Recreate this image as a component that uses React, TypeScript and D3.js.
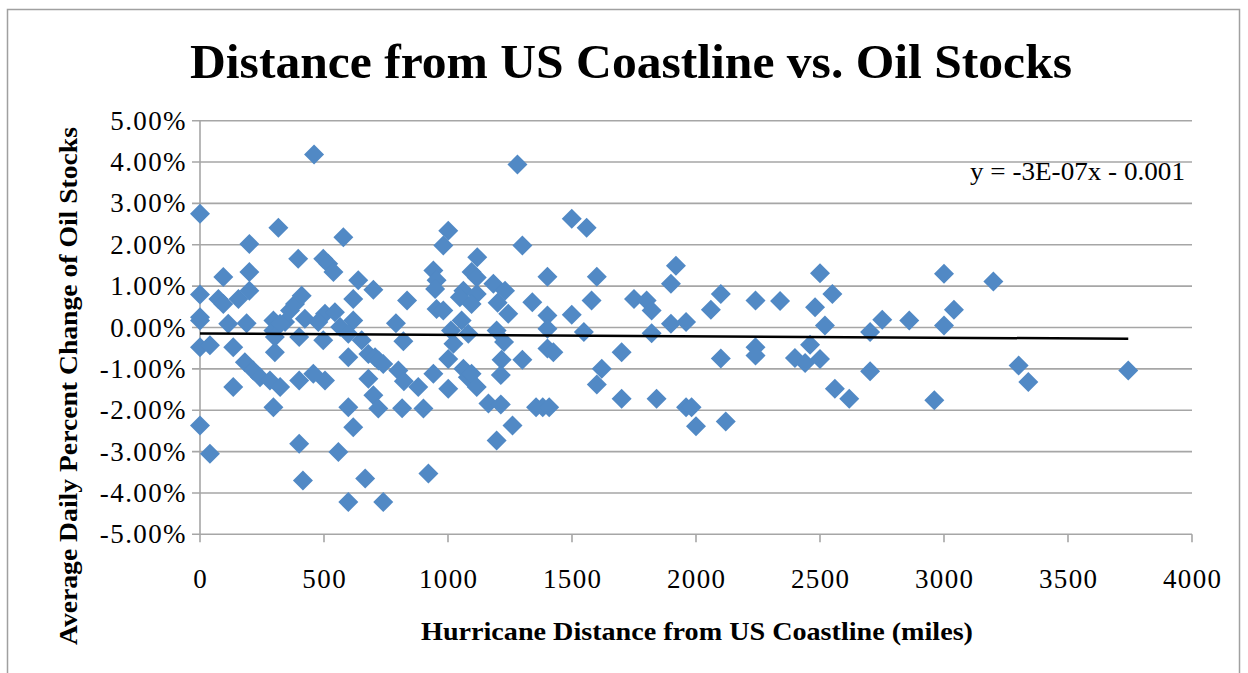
import React from 'react';
import * as d3 from 'd3';

// Hurricane distance from US coastline (miles)
const distances: number[] = [
  0, 316, 199, 396, 94, 199, 0, 74, 94, 155, 199, 0, 0, 114, 188, 296, 343, 363, 383, 410,
  0, 40, 134, 302, 296, 323, 302, 181, 215, 242, 282, 323, 134, 296, 400, 0, 40, 400, 415,
  460, 578, 497, 517, 538, 638, 699, 618, 504, 544, 423, 477, 618, 565, 598, 790, 835,
  400, 497, 598, 652, 679, 706, 720, 739, 800, 820, 457, 504, 679, 699, 719, 598, 618,
  822, 815, 558, 666, 598, 739,
  1001, 981, 1118, 941, 954, 948, 1095, 1116, 1183, 1062, 1048, 1116, 1095, 1230, 1200,
  1243, 954, 981, 1055, 1012, 1082, 1196, 1022, 1001, 1226, 1216, 1213, 941, 1062, 1080,
  1095, 880, 1001, 1116, 1163, 1213, 901, 1260, 1196, 921,
  1280, 1499, 1559, 1300, 1401, 1600, 1340, 1579, 1401, 1499, 1401, 1548, 1401, 1425,
  1300, 1620, 1600, 1355, 1382, 1408,
  1919, 1899, 1750, 1801, 1821, 2060, 2100, 1899, 1960, 1821, 1700, 2100, 1700, 1841,
  1960, 1982, 2000, 2120,
  2240, 2339, 2500, 2480, 2520, 2240, 2240, 2399, 2440, 2460, 2500, 2550, 2560, 2618,
  2702, 2751, 2860, 2702, 2961, 3000, 3040, 3000, 3199, 3301, 3340, 3743,
];

// Average daily percent change of oil stocks (%)
const pctChanges: number[] = [
  2.75, 2.41, 2.02, 1.66, 1.22, 1.34, 0.8, 0.69, 0.57, 0.69, 0.89, 0.17, 0.25, 0.09, 0.1, 0.17, 0.13, 0.41, 0.57, 0.77,
  -0.48, -0.43, -0.48, -0.6, -0.07, 0.09, -0.23, -0.84, -1.04, -1.2, -1.28, -1.44, -1.44, -1.93, -1.28, -2.37, -3.05, -2.81, -3.7,
  4.18, 2.18, 1.66, 1.54, 1.34, 1.14, 0.91, 0.69, 0.33, 0.37, 0.21, 0.13, 0.17, 0.01, -0.15, 0.1, 0.65,
  -0.23, -0.31, -0.72, -0.31, -0.64, -0.72, -0.8, -0.88, -1.04, -0.33, -1.12, -1.28, -1.24, -1.64, -1.96, -1.93, -2.41,
  -1.3, -1.95, -3.01, -3.65, -4.22, -4.22,
  2.34, 1.98, 1.7, 1.38, 1.14, 0.93, 1.34, 1.21, 1.06, 0.89, 0.73, 0.81, 0.57, 0.89, 0.6,
  0.33, 0.45, 0.41, 0.17, -0.07, -0.15, -0.07, -0.39, -0.76, -0.35, -0.78, -1.15, -1.12, -1.0, -1.2,
  -1.12, -1.44, -1.48, -1.44, -1.84, -1.86, -1.96, -2.37, -2.73, -3.53,
  3.94, 2.63, 2.41, 1.98, 1.23, 1.23, 0.61, 0.65, 0.29, 0.31, -0.03, -0.11, -0.51, -0.6,
  -0.78, -1.0, -1.38, -1.93, -1.93, -1.93,
  1.49, 1.06, 0.69, 0.65, 0.41, 0.43, 0.81, 0.09, 0.13, -0.14, -0.6, -0.75, -1.72, -1.72,
  -1.93, -1.93, -2.39, -2.27,
  0.65, 0.64, 1.31, 0.49, 0.05, -0.48, -0.68, -0.74, -0.86, -0.42, -0.76, 0.81, -1.48, -1.72,
  -0.11, 0.19, 0.17, -1.06, -1.76, 1.3, 0.43, 0.05, 1.11, -0.92, -1.32, -1.04,
];

const yTicks: number[] = [5, 4, 3, 2, 1, 0, -1, -2, -3, -4, -5];
const xTicks: number[] = [0, 500, 1000, 1500, 2000, 2500, 3000, 3500, 4000];

// Linear trendline (percent units): y = slope * x + intercept
const trendSlope = -0.000034;
const trendIntercept = -0.145;
const trendLabel = 'y = -3E-07x - 0.001';

const chartTitle = 'Distance from US Coastline vs. Oil Stocks';
const xTitle = 'Hurricane Distance from US Coastline (miles)';
const yTitle = 'Average Daily Percent Change of Oil Stocks';

const W = 1248;
const H = 673;
const FONT = '"Liberation Serif", "Times New Roman", serif';
const GRID = '#a6a6a6';
const MARKER = '#5189c5';

export default function App() {
  const x = d3.scaleLinear().domain([0, 4000]).range([200, 1192]);
  const y = d3.scaleLinear().domain([-5, 5]).range([534.3, 120.7]);
  const diamond = d3.symbol().type(d3.symbolSquare).size(200)() as string;
  const xMaxData = d3.max(distances) as number;
  const trendPath = d3.line<number>()
    .x((d) => x(d))
    .y((d) => y(trendSlope * d + trendIntercept))([0, xMaxData]) as string;
  const fmt = (v: number) => v.toFixed(2) + '%';

  return (
    <svg
      width={W}
      height={H}
      style={{ position: 'absolute', left: 0, top: 0, background: '#fff' }}
      fontFamily={FONT}
    >
      <rect x={0} y={0} width={W} height={H} fill="#fff" />
      <rect x={7.5} y={9.5} width={1232} height={720} fill="none" stroke="#a0a0a0" strokeWidth={1.5} />

      {/* gridlines */}
      {yTicks.map((t) => (
        <line key={'g' + t} x1={192} x2={x(4000)} y1={y(t)} y2={y(t)} stroke={GRID} strokeWidth={1.6} />
      ))}
      {/* y axis line */}
      <line x1={x(0)} x2={x(0)} y1={y(5)} y2={y(-5)} stroke={GRID} strokeWidth={1.6} />
      {/* x ticks */}
      {xTicks.map((t) => (
        <line key={'xt' + t} x1={x(t)} x2={x(t)} y1={y(-5)} y2={y(-5) + 8} stroke={GRID} strokeWidth={1.6} />
      ))}

      {/* points */}
      {distances.map((d, i) => (
        <path
          key={'p' + i}
          d={diamond}
          transform={`translate(${x(d)},${y(pctChanges[i])}) rotate(45)`}
          fill={MARKER}
        />
      ))}

      {/* trendline */}
      <path d={trendPath} stroke="#000" strokeWidth={2.5} fill="none" />
      <text x={970} y={180} textLength={215} lengthAdjust="spacingAndGlyphs" fontSize={25} fill="#000">{trendLabel}</text>

      {/* y tick labels */}
      {yTicks.map((t) => (
        <text key={'yl' + t} x={187} y={y(t) + 9} textAnchor="end" fontSize={27} letterSpacing={1.4} fill="#000">
          {fmt(t)}
        </text>
      ))}
      {/* x tick labels */}
      {xTicks.map((t) => (
        <text key={'xl' + t} x={x(t) + 0.7} y={588} textAnchor="middle" fontSize={27} letterSpacing={1.4} fill="#000">
          {t}
        </text>
      ))}

      {/* titles */}
      <text x={190} y={78} textLength={882} lengthAdjust="spacingAndGlyphs" fontSize={48} fontWeight="bold" fill="#000">
        {chartTitle}
      </text>
      <text x={421} y={640} textLength={552} lengthAdjust="spacingAndGlyphs" fontSize={25} fontWeight="bold" fill="#000">
        {xTitle}
      </text>
      <text
        transform={`translate(77,645) rotate(-90)`}
        textLength={518}
        lengthAdjust="spacingAndGlyphs"
        fontSize={25}
        fontWeight="bold"
        fill="#000"
      >
        {yTitle}
      </text>
    </svg>
  );
}
